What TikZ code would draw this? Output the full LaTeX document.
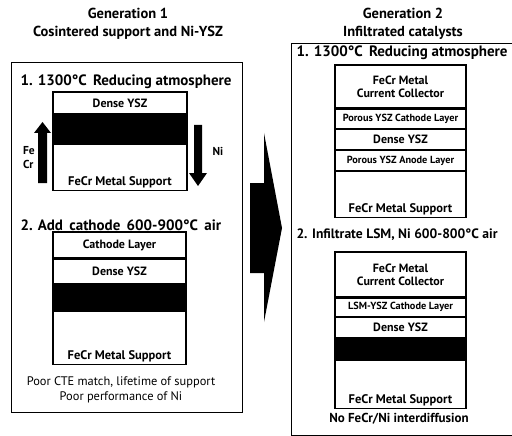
\documentclass[tikz,border=0pt]{standalone}
\usepackage{fontspec}
\setmainfont{PT Sans}
\begin{document}
\begin{tikzpicture}[x=1pt,y=-1pt,
  layer/.style={draw=black,line width=1.2pt,minimum width=#1,inner sep=0pt,font=\bfseries\fontsize{12}{13}\selectfont,align=center},
  blk/.style={layer=#1,fill=black},
  small/.style={font=\bfseries\fontsize{10.3}{11}\selectfont},
  lab/.style={font=\bfseries\fontsize{12.5}{13}\selectfont,anchor=base},
  head/.style={font=\bfseries\fontsize{15}{17}\selectfont,anchor=base west},
  title/.style={font=\bfseries\fontsize{14.5}{18}\selectfont,align=center},
  note/.style={font=\fontsize{12.4}{15}\selectfont,align=center},
  elem/.style={font=\bfseries\fontsize{11.5}{13}\selectfont,anchor=base west},
  frame/.style={draw=black,line width=0.8pt},
  solidarrow/.style={fill=black,draw=none}]
\useasboundingbox (0,0) rectangle (512,436);
\clip (0,0) rectangle (512,436);
% titles
\node[title] (t1) at (128,24) {Generation 1\\Cosintered support and Ni-YSZ};
\node[title] (t2) at (403,24) {Generation 2\\Infiltrated catalysts};
% frames
\draw[frame] (11,62) rectangle (242,412);
\draw[frame] (291,43) rectangle (530,435);
% left box, step 1
\node[head] (h1) at (17,85) {1. 1300°C\, Reducing atmosphere};
\node[layer=134pt,minimum height=22pt] (a1) at (120,103) {Dense YSZ};
\node[blk=134pt,minimum height=28pt,anchor=north] (a2) at (a1.south) {};
\node[layer=134pt,minimum height=46pt,anchor=north] (a3) at (a2.south) {};
\node[lab] (a3l) at ([yshift=6pt]a3.south) {FeCr Metal Support};
\fill[solidarrow] (38,183) -- (47,183) -- (47,133) -- (51,133) -- (42.5,122) -- (34,133) -- (38,133) -- cycle;
\fill[solidarrow] (194,125) -- (202,125) -- (202,173) -- (207,173) -- (198,186) -- (189,173) -- (194,173) -- cycle;
\node[elem] (fe) at (19.5,154) {Fe};
\node[elem] (cr) at (19.5,168) {Cr};
\node[elem] (ni) at (209,156) {Ni};
% left box, step 2
\node[head] (h2) at (17,230) {2. Add\, cathode\, 600-900°C\, air};
\node[layer=133pt,minimum height=26pt] (b1) at (119.5,245) {Cathode Layer};
\node[layer=133pt,minimum height=24pt,anchor=north] (b2) at (b1.south) {Dense YSZ};
\node[blk=133pt,minimum height=26pt,anchor=north] (b3) at (b2.south) {};
\node[layer=133pt,minimum height=53pt,anchor=north] (b4) at (b3.south) {};
\node[lab] (b4l) at ([yshift=6pt]b4.south) {FeCr Metal Support};
\node[note] (n1) at (121,390) {Poor CTE match, lifetime of support\\Poor performance of Ni};
% big arrow
\fill[solidarrow] (250,183) -- (264,183) -- (264,133) -- (282,228) -- (264,322) -- (264,273) -- (250,273) -- cycle;
% right box, step 1
\node[head] (h3) at (293,57) {1. 1300°C\, Reducing atmosphere};
\node[layer=131pt,minimum height=43pt] (c1) at (400.5,86.5) {FeCr Metal\\Current Collector};
\node[layer=131pt,minimum height=19pt,anchor=north,small] (c2) at (c1.south) {Porous YSZ Cathode Layer};
\node[layer=131pt,minimum height=20pt,anchor=north] (c3) at (c2.south) {Dense YSZ};
\node[layer=131pt,minimum height=20pt,anchor=north,small] (c4) at (c3.south) {Porous YSZ Anode Layer};
\node[layer=131pt,minimum height=46pt,anchor=north] (c5) at (c4.south) {};
\node[lab] (c5l) at ([yshift=6pt]c5.south) {FeCr Metal Support};
% right box, step 2
\node[head,font=\bfseries\fontsize{13.6}{16}\selectfont] (h4) at (293,238) {2. Infiltrate LSM, Ni 600-800°C air};
\node[layer=131pt,minimum height=45pt] (d1) at (400.5,274.5) {FeCr Metal\\Current Collector};
\node[layer=131pt,minimum height=18pt,anchor=north,small] (d2) at (d1.south) {LSM-YSZ Cathode Layer};
\node[layer=131pt,minimum height=20pt,anchor=north] (d3) at (d2.south) {Dense YSZ};
\node[blk=131pt,minimum height=21pt,anchor=north] (d4) at (d3.south) {};
\node[layer=131pt,minimum height=48pt,anchor=north] (d5) at (d4.south) {};
\node[lab] (d5l) at ([yshift=6pt]d5.south) {FeCr Metal Support};
\node[note,font=\bfseries\fontsize{13}{15}\selectfont] (n2) at (399,419) {No FeCr/Ni interdiffusion};
\end{tikzpicture}
\end{document}
